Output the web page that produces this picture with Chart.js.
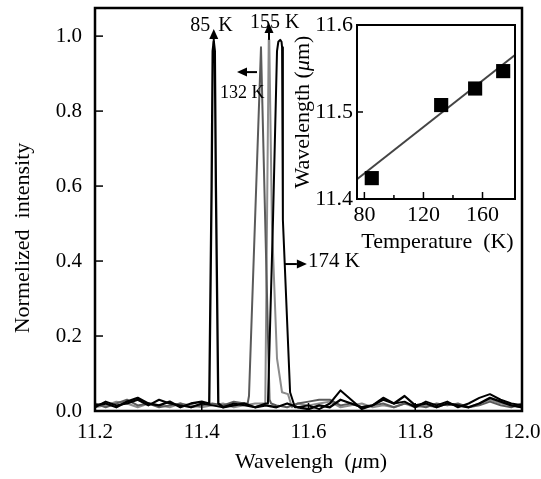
<!DOCTYPE html>
<html><head><meta charset="utf-8">
<script src="https://cdn.jsdelivr.net/npm/chart.js@4.4.0/dist/chart.umd.min.js"></script>
<style>
html,body{margin:0;padding:0;background:#fff;}
#wrap{position:relative;width:541px;height:479px;overflow:hidden;}
#main{position:absolute;left:0;top:0;}
#inset{position:absolute;left:280px;top:10px;}
</style></head><body>
<div id="wrap"><canvas id="main" width="541" height="479"></canvas><canvas id="inset" width="245" height="250"></canvas></div>
<script>
// ---------- data ----------
const noiseWl = [11.20,11.22,11.24,11.26,11.28,11.30,11.32,11.34,11.36,11.38,11.40,11.42,11.44,11.46,11.48,11.50,11.52,11.54,11.56,11.58,11.60,11.62,11.64,11.66,11.68,11.70,11.72,11.74,11.76,11.78,11.80,11.82,11.84,11.86,11.88,11.90,11.92,11.94,11.96,11.98,12.00];
const noise85  = [0.015,0.02,0.01,0.025,0.035,0.02,0.015,0.025,0.01,0.02,0.025,0.02,0.01,0.015,0.02,0.01,0.015,0.01,0.02,0.01,0.005,0.015,0.01,0.03,0.02,0.01,0.015,0.035,0.02,0.04,0.015,0.02,0.01,0.02,0.015,0.01,0.02,0.035,0.025,0.015,0.01];
const noise132 = [0.02,0.01,0.02,0.03,0.015,0.02,0.01,0.015,0.02,0.01,0.015,0.02,0.015,0.025,0.02,0.02,0.02,0.015,0.01,0.02,0.025,0.03,0.03,0.015,0.02,0.01,0.015,0.02,0.01,0.02,0.015,0.01,0.02,0.015,0.02,0.01,0.015,0.025,0.015,0.01,0.02];
const noise155 = [0.01,0.015,0.025,0.02,0.01,0.02,0.015,0.01,0.02,0.015,0.01,0.015,0.02,0.01,0.015,0.02,0.02,0.02,0.02,0.02,0.015,0.02,0.025,0.01,0.015,0.02,0.01,0.015,0.01,0.02,0.01,0.015,0.01,0.02,0.015,0.01,0.02,0.03,0.02,0.015,0.01];
const noise174 = [0.01,0.025,0.015,0.02,0.03,0.015,0.03,0.02,0.015,0.01,0.02,0.015,0.01,0.02,0.015,0.01,0.02,0.02,0.01,0.01,0.015,0.005,0.02,0.055,0.03,0.005,0.015,0.03,0.02,0.025,0.01,0.025,0.015,0.025,0.01,0.02,0.035,0.045,0.03,0.02,0.015];

const peak85Wl  = [11.414,11.4185,11.4205,11.4225,11.4245,11.4265,11.431];
const peak85I   = [0.02,0.6,0.96,0.985,0.96,0.6,0.02];
const peak132Wl = [11.486,11.4885,11.511,11.527,11.53];
const peak132I  = [0.02,0.04,0.97,0.03,0.02];
const peak155Wl = [11.519,11.5255,11.5265,11.5315,11.541,11.5504,11.5616,11.569];
const peak155I  = [0.02,0.99,0.99,0.5,0.14,0.05,0.045,0.01];
const peak174Wl = [11.524,11.5335,11.541,11.5435,11.547,11.5495,11.5505,11.552,11.5655,11.5745];
const peak174I  = [0.02,0.51,0.96,0.985,0.99,0.985,0.97,0.51,0.05,0.01];

const xTicks = [11.2,11.4,11.6,11.8,12.0];
const xTickLabels = ['11.2','11.4','11.6','11.8','12.0'];
const yTicks = [0,0.2,0.4,0.6,0.8,1.0];
const yTickLabels = ['0.0','0.2','0.4','0.6','0.8','1.0'];

const insetTemp = [85,132,155,174];
const insetWl = [11.424,11.508,11.527,11.547];
const fitTemp = [75,182];
const fitWl = [11.4226,11.5655];
const insetXTicks = [80,120,160];
const insetXTickLabels = ['80','120','160'];
const insetYTicks = [11.4,11.5,11.6];
const insetYTickLabels = ['11.4','11.5','11.6'];

// ---------- helpers ----------
const FONT = '"Liberation Serif","Times New Roman",serif';
function buildSeries(pw, pi, ni) {
  const lo = pw[0], hi = pw[pw.length-1], pts = [];
  noiseWl.forEach((w,i)=>{ if (w < lo || w > hi) pts.push({x:w, y:ni[i]}); });
  pw.forEach((w,i)=>pts.push({x:w, y:pi[i]}));
  pts.sort((a,b)=>a.x-b.x);
  return pts;
}
function drawArrow(ctx, x1, y1, x2, y2) {
  const ang = Math.atan2(y2-y1, x2-x1), L = 10, W = 4.5;
  const bx = x2 - L*Math.cos(ang), by = y2 - L*Math.sin(ang);
  ctx.beginPath(); ctx.moveTo(x1,y1); ctx.lineTo(bx,by); ctx.lineWidth = 2; ctx.stroke();
  ctx.beginPath(); ctx.moveTo(x2,y2);
  ctx.lineTo(bx + W*Math.sin(ang), by - W*Math.cos(ang));
  ctx.lineTo(bx - W*Math.sin(ang), by + W*Math.cos(ang));
  ctx.closePath(); ctx.fill();
}
function drawParts(ctx, parts, x, y, size, align) {
  let total = 0;
  parts.forEach(p=>{ ctx.font = (p[1]?'italic ':'') + size + 'px ' + FONT; total += ctx.measureText(p[0]).width; });
  let cx = align === 'center' ? x - total/2 : x;
  ctx.textAlign = 'left';
  parts.forEach(p=>{ ctx.font = (p[1]?'italic ':'') + size + 'px ' + FONT; ctx.fillText(p[0], cx, y); cx += ctx.measureText(p[0]).width; });
}
function line(ctx, x1, y1, x2, y2) { ctx.beginPath(); ctx.moveTo(x1,y1); ctx.lineTo(x2,y2); ctx.stroke(); }

// annotations (data coordinates)
const arrows = [
  {x1:11.4225, y1:0.975, x2:11.4225, y2:1.019},
  {x1:11.526,  y1:0.99,  x2:11.526,  y2:1.035},
  {x1:11.5035, y1:0.904, x2:11.466,  y2:0.904},
  {x1:11.5555, y1:0.392, x2:11.597,  y2:0.392}
];
const labels = [
  {t:'85',    x:11.4160, y:1.0133, size:20, align:'right'},
  {t:'K',     x:11.4309, y:1.0133, size:20, align:'left'},
  {t:'155 K', x:11.4904, y:1.0213, size:20, align:'left'},
  {t:'132 K', x:11.4342, y:0.8347, size:18, align:'left'},
  {t:'174 K', x:11.5991, y:0.384,  size:21, align:'left'}
];

const mainDeco = { id:'mainDeco', afterDraw(chart) {
  const {ctx, chartArea:a, scales:{x, y}} = chart;
  ctx.save();
  ctx.strokeStyle = '#000'; ctx.fillStyle = '#000';
  ctx.lineWidth = 2.5;
  ctx.strokeRect(a.left, a.top, a.right-a.left, a.bottom-a.top);
  ctx.lineWidth = 1.5;
  yTicks.forEach(v=>{ if (v === 0) return; const py = y.getPixelForValue(v); line(ctx, a.left, py, a.left+8, py); });
  xTicks.slice(1,-1).forEach(v=>{ const px = x.getPixelForValue(v); line(ctx, px, a.bottom, px, a.bottom-8); });
  // axis titles
  ctx.textBaseline = 'alphabetic';
  drawParts(ctx, [['Wavelengh  (',false],['\u03bc',true],['m)',false]], 311, 468, 22, 'center');
  ctx.save(); ctx.translate(29, 238); ctx.rotate(-Math.PI/2);
  drawParts(ctx, [['Normelized  intensity',false]], 0, 0, 22, 'center');
  ctx.restore();
  // annotations
  arrows.forEach(r=>drawArrow(ctx, x.getPixelForValue(r.x1), y.getPixelForValue(r.y1), x.getPixelForValue(r.x2), y.getPixelForValue(r.y2)));
  labels.forEach(l=>{ ctx.font = l.size + 'px ' + FONT; ctx.textAlign = l.align; ctx.fillText(l.t, x.getPixelForValue(l.x), y.getPixelForValue(l.y)); });
  ctx.restore();
}};

new Chart(document.getElementById('main'), {
  type: 'scatter',
  data: { datasets: [
    {label:'85 K',  data: buildSeries(peak85Wl, peak85I, noise85),   borderColor:'#000', borderWidth:2.3, showLine:true},
    {label:'174 K', data: buildSeries(peak174Wl, peak174I, noise174), borderColor:'#000', borderWidth:2, showLine:true},
    {label:'132 K', data: buildSeries(peak132Wl, peak132I, noise132), borderColor:'#5a5a5a', borderWidth:2, showLine:true},
    {label:'155 K', data: buildSeries(peak155Wl, peak155I, noise155), borderColor:'#8c8c8c', borderWidth:2, showLine:true}
  ]},
  options: {
    responsive:false, animation:false,
    elements:{ point:{radius:0, hoverRadius:0}, line:{tension:0, borderJoinStyle:'round'} },
    plugins:{ legend:{display:false}, tooltip:{enabled:false} },
    layout:{ padding:{left:0, top:8, right:19, bottom:0} },
    scales:{
      x:{ type:'linear', min:11.2, max:12.0, grid:{display:false, drawTicks:false}, border:{display:false},
          afterBuildTicks: s=>{ s.ticks = xTicks.map(v=>({value:v})); },
          ticks:{ autoSkip:false, maxRotation:0, padding:9, color:'#000', font:{family:FONT, size:21},
                  callback:(v)=>{ const i = xTicks.findIndex(t=>Math.abs(t-v)<1e-6); return i>=0 ? xTickLabels[i] : ''; } },
          afterFit: s=>{ s.height = 68; s.paddingLeft = 0; s.paddingRight = 0; } },
      y:{ type:'linear', min:0, max:1.075, grid:{display:false, drawTicks:false}, border:{display:false},
          afterBuildTicks: s=>{ s.ticks = yTicks.map(v=>({value:v})); },
          ticks:{ autoSkip:false, padding:13, color:'#000', font:{family:FONT, size:21},
                  callback:(v)=>{ const i = yTicks.findIndex(t=>Math.abs(t-v)<1e-6); return i>=0 ? yTickLabels[i] : ''; } },
          afterFit: s=>{ s.width = 95; s.paddingTop = 0; s.paddingBottom = 0; } }
    }
  },
  plugins:[mainDeco]
});

const insetDeco = { id:'insetDeco', afterDraw(chart) {
  const {ctx, chartArea:a, scales:{x, y}} = chart;
  ctx.save();
  ctx.strokeStyle = '#000'; ctx.fillStyle = '#000';
  ctx.lineWidth = 2;
  ctx.strokeRect(a.left, a.top, a.right-a.left, a.bottom-a.top);
  ctx.lineWidth = 1.5;
  const py = y.getPixelForValue(11.5); line(ctx, a.left, py, a.left+6, py);
  [80,120,160].forEach(v=>{ const px = x.getPixelForValue(v); line(ctx, px, a.bottom, px, a.bottom-7); });
  [100,140].forEach(v=>{ const px = x.getPixelForValue(v); line(ctx, px, a.bottom, px, a.bottom-4); });
  ctx.textBaseline = 'alphabetic';
  drawParts(ctx, [['Temperature  (K)',false]], 157.5, 238, 22, 'center');
  ctx.save(); ctx.translate(29, 102); ctx.rotate(-Math.PI/2);
  drawParts(ctx, [['Wavelength (',false],['\u03bc',true],['m)',false]], 0, 0, 22, 'center');
  ctx.restore();
  ctx.restore();
}};

new Chart(document.getElementById('inset'), {
  type: 'scatter',
  data: { datasets: [
    {label:'data', data: insetTemp.map((t,i)=>({x:t, y:insetWl[i]})), pointStyle:'rect', pointRadius:10, pointHoverRadius:10, backgroundColor:'#000', borderColor:'#000', borderWidth:0, showLine:false},
    {label:'fit', data: fitTemp.map((t,i)=>({x:t, y:fitWl[i]})), borderColor:'#444', borderWidth:2, pointRadius:0, showLine:true}
  ]},
  options: {
    responsive:false, animation:false,
    elements:{ line:{tension:0} },
    plugins:{ legend:{display:false}, tooltip:{enabled:false} },
    layout:{ padding:{left:0, top:15, right:9, bottom:0} },
    scales:{
      x:{ type:'linear', min:75, max:182, grid:{display:false, drawTicks:false}, border:{display:false},
          afterBuildTicks: s=>{ s.ticks = insetXTicks.map(v=>({value:v})); },
          ticks:{ autoSkip:false, maxRotation:0, padding:3, color:'#000', font:{family:FONT, size:22},
                  callback:(v)=>{ const i = insetXTicks.indexOf(v); return i>=0 ? insetXTickLabels[i] : ''; } },
          afterFit: s=>{ s.height = 61; s.paddingLeft = 0; s.paddingRight = 0; } },
      y:{ type:'linear', min:11.4, max:11.6, grid:{display:false, drawTicks:false}, border:{display:false},
          afterBuildTicks: s=>{ s.ticks = insetYTicks.map(v=>({value:v})); },
          ticks:{ autoSkip:false, padding:4, color:'#000', font:{family:FONT, size:22},
                  callback:(v)=>{ const i = insetYTicks.findIndex(t=>Math.abs(t-v)<1e-6); return i>=0 ? insetYTickLabels[i] : ''; } },
          afterFit: s=>{ s.width = 77; s.paddingTop = 0; s.paddingBottom = 0; } }
    }
  },
  plugins:[insetDeco]
});
</script>
</body></html>
